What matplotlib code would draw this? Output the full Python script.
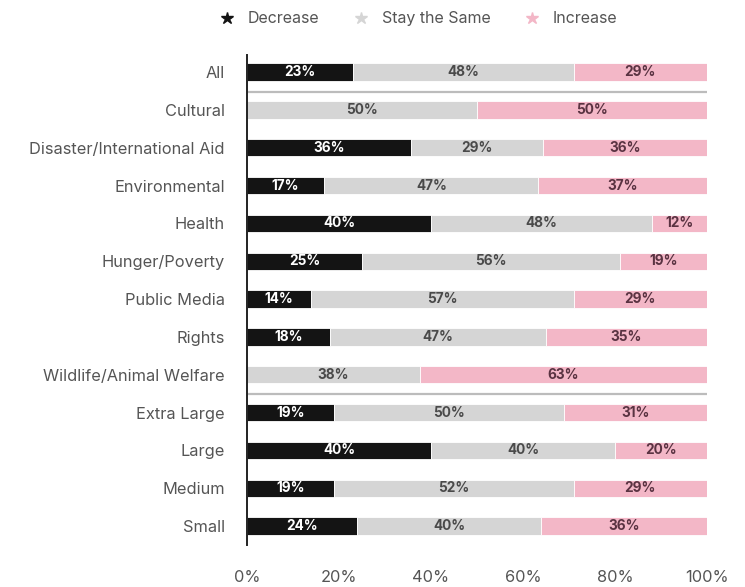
import matplotlib.pyplot as plt
from matplotlib.lines import Line2D

plt.rcParams['font.family'] = ['Inter', 'DejaVu Sans']

categories = ["All", "Cultural", "Disaster/International Aid", "Environmental", "Health",
              "Hunger/Poverty", "Public Media", "Rights", "Wildlife/Animal Welfare",
              "Extra Large", "Large", "Medium", "Small"]
decrease = [23, 0, 36, 17, 40, 25, 14, 18, 0, 19, 40, 19, 24]
same = [48, 50, 29, 47, 48, 56, 57, 47, 38, 50, 40, 52, 40]
increase = [29, 50, 36, 37, 12, 19, 29, 35, 63, 31, 20, 29, 36]
xticks = [0, 20, 40, 60, 80, 100]

c_dec, c_same, c_inc = "#141414", "#d5d5d5", "#f3b7c7"

fig = plt.figure(figsize=(7.45, 5.87), dpi=100)
ax = fig.add_axes([0.3315, 0.0716, 0.6175, 0.8347])

y = list(range(len(categories)))
h = 0.46
# totals can exceed 100 from rounding, so scale each row to the full width
totals = [d + s + i for d, s, i in zip(decrease, same, increase)]

def scaled(vals):
    return [v * 100 / t for v, t in zip(vals, totals)]

d_s, s_s, i_s = scaled(decrease), scaled(same), scaled(increase)
l2 = d_s
l3 = [a + b for a, b in zip(d_s, s_s)]

ax.barh(y, d_s, height=h, color=c_dec, edgecolor="white", linewidth=0.6)
ax.barh(y, s_s, left=l2, height=h, color=c_same, edgecolor="white", linewidth=0.6)
ax.barh(y, i_s, left=l3, height=h, color=c_inc, edgecolor="white", linewidth=0.6)

for k in y:
    if decrease[k]:
        ax.text(d_s[k] / 2, k, f"{decrease[k]}%", ha="center", va="center",
                color="white", fontsize=9.8, fontweight="bold")
    ax.text(l2[k] + s_s[k] / 2, k, f"{same[k]}%", ha="center", va="center",
            color="#4a4a4a", fontsize=9.8, fontweight="bold")
    ax.text(l3[k] + i_s[k] / 2, k, f"{increase[k]}%", ha="center", va="center",
            color="#5a3342", fontsize=9.8, fontweight="bold")

# group separators
for yy in (0.52, 8.52):
    ax.axhline(yy, color="#bcbcbc", lw=1.6, zorder=0)

ax.set_xlim(0, 100)
ax.set_ylim(12.5, -0.45)
ax.set_yticks(y)
ax.set_yticklabels(categories, fontsize=11.8, color="#555555")
ax.set_xticks(xticks)
ax.set_xticklabels([f"{t}%" for t in xticks], fontsize=11.8, color="#555555")
ax.tick_params(axis="y", length=0, pad=16)
ax.tick_params(axis="x", length=0, pad=18)
for s in ("top", "right", "bottom"):
    ax.spines[s].set_visible(False)
ax.spines["left"].set_color("#222222")
ax.spines["left"].set_linewidth(1.4)

handles = [Line2D([], [], marker="*", ls="", color=c, markersize=9) for c in (c_dec, c_same, c_inc)]
fig.legend(handles, ["Decrease", "Stay the Same", "Increase"], loc="center",
           bbox_to_anchor=(0.556, 0.968), ncol=3, frameon=False, fontsize=11.5,
           handletextpad=0.3, columnspacing=1.6, labelcolor="#555555")

fig.savefig("out.png", dpi=100)
